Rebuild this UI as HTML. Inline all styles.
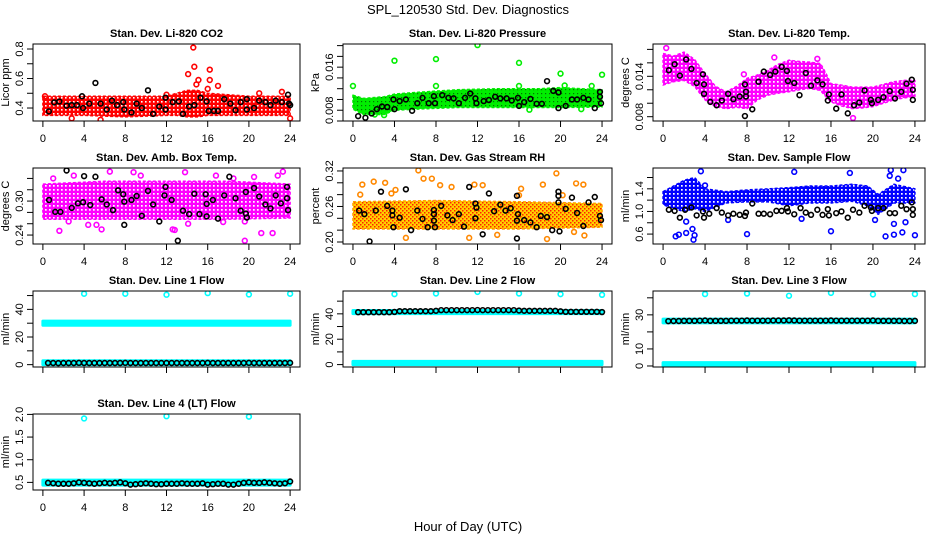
<!DOCTYPE html>
<html><head><meta charset="utf-8">
<style>
html,body{margin:0;padding:0;background:#fff;}
svg{display:block;font-family:"Liberation Sans",Arial,sans-serif;}
</style></head>
<body>
<svg id="chart" width="936" height="540" viewBox="0 0 936 540" xmlns="http://www.w3.org/2000/svg">
<defs>
<pattern id="patRed" width="4" height="4" patternUnits="userSpaceOnUse"><rect width="4" height="4" fill="#ff0000"/><rect x="1" y="1" width="1.6" height="1.6" fill="#fff"/></pattern>
<pattern id="patGreen" width="4" height="4" patternUnits="userSpaceOnUse"><rect width="4" height="4" fill="#00ee00"/><rect x="1" y="1" width="1.2" height="1.2" fill="#000" opacity="0.5"/></pattern>
<pattern id="patMag" width="4" height="4" patternUnits="userSpaceOnUse"><rect width="4" height="4" fill="#ff00ff"/><rect x="1" y="1" width="1.7" height="1.7" fill="#fff"/></pattern>
<pattern id="patBlue" width="4" height="4" patternUnits="userSpaceOnUse"><rect width="4" height="4" fill="#0000ff"/><rect x="1" y="1" width="1.7" height="1.7" fill="#fff"/></pattern>
<pattern id="patRH" width="4" height="4" patternUnits="userSpaceOnUse"><rect width="4" height="4" fill="#ffd000"/><rect x="0" y="0" width="1.5" height="1.5" fill="#ff2000"/><rect x="2" y="2" width="1.5" height="1.5" fill="#ff2000"/></pattern>
</defs>
<text x="468" y="14" font-size="13" text-anchor="middle">SPL_120530  Std. Dev. Diagnostics</text>
<text x="468" y="531" font-size="13" text-anchor="middle">Hour of Day (UTC)</text>
</svg>
<script>
// ---------- data ----------
const xTickHours=[0,4,8,12,16,20,24];
// P1 CO2
const co2BandHours=[0,4,8,12,13,14,15,16,20,24];
const co2BandLo=[0.35,0.35,0.34,0.35,0.35,0.34,0.34,0.35,0.35,0.35];
const co2BandHi=[0.48,0.48,0.48,0.48,0.5,0.52,0.52,0.5,0.48,0.48];
const co2OutX=[14.6,14.7,14.1,16.2,16.2,15.1,17,14.9,0.2,2.8,5.6,24,21,23.2,16,12];
const co2OutY=[0.81,0.68,0.63,0.66,0.59,0.59,0.55,0.56,0.48,0.33,0.32,0.33,0.5,0.51,0.53,0.49];
const co2BlkX=[0.58,1.1,1.6,2.3,2.8,3.3,3.8,3.9,4.5,5.1,5.6,6.2,6.7,7.2,7.8,7.9,8.6,9.1,9.6,10.2,10.7,11.3,11.9,11.9,12.6,13.2,13.6,14.2,14.7,15.3,15.9,16.1,16.6,17.0,17.6,18.2,18.7,19.2,19.8,19.8,20.5,21.0,21.6,22.1,22.6,23.2,23.8,23.9,24];
const co2BlkY=[0.377,0.438,0.444,0.416,0.42,0.42,0.48,0.40,0.43,0.57,0.43,0.39,0.45,0.42,0.44,0.39,0.37,0.43,0.40,0.52,0.36,0.41,0.47,0.39,0.44,0.445,0.36,0.41,0.42,0.47,0.445,0.38,0.38,0.38,0.46,0.43,0.385,0.44,0.46,0.39,0.40,0.45,0.44,0.42,0.45,0.44,0.49,0.43,0.42];
// P2 Pressure
const prBandHours=[0,1,3,4,6,10,14,18,20,24];
const prBandLo=[0.0082,0.0072,0.0072,0.008,0.0082,0.0085,0.0085,0.0085,0.0085,0.0086];
const prBandHi=[0.0108,0.0102,0.0105,0.011,0.0113,0.0118,0.012,0.012,0.0122,0.0118];
const prOutX=[0,4,8,12,16,20,24,8,16,23,20.4,17,22,2.1,3];
const prOutY=[0.0125,0.0172,0.0175,0.0201,0.0168,0.0148,0.0146,0.0125,0.0125,0.0125,0.0126,0.0081,0.0082,0.0072,0.0071];
const prBlkX=[0.5,1.2,1.8,2.3,2.8,3.3,3.9,4,4.5,5.1,5.7,6.2,6.7,7.3,7.8,7.9,8.6,9.2,9.7,10.2,10.8,11.3,11.8,11.9,12.6,13.1,13.7,14.2,14.8,15.3,15.9,16,16.5,17.1,17.7,18.2,18.7,19.3,19.8,19.8,20.5,21.1,21.6,22.2,22.7,23.3,23.8,23.8,23.9];
const prBlkY=[0.0069,0.0066,0.0074,0.0082,0.0087,0.0086,0.010,0.0082,0.0097,0.010,0.0079,0.0093,0.0103,0.0093,0.0106,0.0093,0.0108,0.0103,0.0102,0.0093,0.0103,0.0111,0.0102,0.0093,0.0097,0.0099,0.0105,0.0102,0.0102,0.0098,0.0103,0.0088,0.0095,0.0101,0.0092,0.0092,0.0134,0.0116,0.0113,0.0084,0.0088,0.010,0.010,0.0103,0.010,0.0084,0.0114,0.0105,0.0093];
// P3 Li-820 Temp
const tmBandHours=[0,1,2,3,4,5,6,7,8,9,10,11,12,13,14,15,15.5,16,17,18,19,20,21,22,23,24];
const tmBandLo=[0.0127,0.0132,0.0134,0.0125,0.0105,0.0095,0.0092,0.0094,0.0092,0.0105,0.0112,0.0115,0.0117,0.0120,0.0122,0.0119,0.0110,0.0102,0.0096,0.0092,0.0093,0.0095,0.0100,0.0105,0.0108,0.011];
const tmBandHi=[0.0174,0.0170,0.0176,0.0165,0.0144,0.0125,0.0117,0.0125,0.0137,0.0142,0.0149,0.0158,0.0164,0.0162,0.0161,0.0159,0.0145,0.0129,0.0127,0.0124,0.0124,0.0124,0.0128,0.0132,0.0134,0.0134];
const tmOutX=[0.3,10.6,14.7,18.1,7.7];
const tmOutY=[0.0182,0.0168,0.0166,0.0078,0.0143];
const tmBlkX=[0.55,1.1,1.6,2.2,2.7,3.2,3.8,3.9,3.9,4.5,5.1,5.6,6.2,6.7,7.3,7.8,7.9,7.9,7.8,8.5,9.1,9.6,10.2,10.7,11.3,11.8,11.9,12.5,13.0,13.6,14.1,14.7,15.2,15.8,15.7,16.5,17.0,17.6,18.2,18.7,19.2,19.8,19.9,20.5,21.0,21.6,22.1,22.7,23.2,23.7,23.8,23.8];
const tmBlkY=[0.0149,0.0158,0.0141,0.0165,0.0151,0.013,0.0143,0.0128,0.0114,0.0102,0.0097,0.0104,0.0114,0.0106,0.011,0.0128,0.0117,0.011,0.0081,0.0091,0.0132,0.0147,0.0142,0.0147,0.0154,0.0148,0.0133,0.013,0.0112,0.0145,0.0126,0.0134,0.0128,0.0113,0.0104,0.0092,0.0113,0.0085,0.0097,0.0101,0.0119,0.0105,0.0100,0.0105,0.0109,0.0118,0.0107,0.0117,0.0129,0.0135,0.012,0.0105];
// P4 Amb Box Temp
const abBandHours=[0,6,12,18,24];
const abBandLo=[0.268,0.268,0.268,0.268,0.27];
const abBandHi=[0.33,0.335,0.335,0.335,0.33];
const abOutX=[1.6,2.5,4.4,5.2,5.7,6.5,8.8,13.8,12.6,12.8,21.2,22.3,23.3,20.5,14.1,17.5,19.6,19.6,1.0,3.0,9.5,16.8,18.5,22.8];
const abOutY=[0.2475,0.264,0.258,0.258,0.25,0.352,0.351,0.351,0.25,0.249,0.2435,0.2435,0.352,0.3425,0.26,0.263,0.264,0.23,0.34,0.345,0.345,0.345,0.34,0.345];
const abBlkX=[0.6,1.2,1.7,2.3,2.8,3.4,3.9,4,4.6,5.1,5.7,6.2,6.8,7.3,7.8,7.9,7.9,8.6,9.1,9.6,10.2,10.7,11.3,11.8,11.9,12.5,13.1,13.6,14.2,14.7,15.2,15.8,15.9,15.9,16.5,17,17.6,18.1,18.7,19.2,19.7,19.7,19.8,20.5,21.0,21.6,22.1,22.6,23.1,23.7,23.7,23.8];
const abBlkY=[0.302,0.281,0.281,0.354,0.288,0.296,0.298,0.344,0.293,0.343,0.303,0.294,0.284,0.319,0.312,0.258,0.299,0.302,0.309,0.274,0.318,0.294,0.264,0.31,0.325,0.302,0.23,0.283,0.277,0.313,0.277,0.312,0.295,0.273,0.302,0.269,0.31,0.343,0.305,0.283,0.316,0.278,0.271,0.323,0.308,0.294,0.287,0.31,0.296,0.325,0.305,0.284];
// P5 Gas Stream RH
const rhBandHours=[0,8,16,24];
const rhBandLo=[0.222,0.222,0.222,0.225];
const rhBandHi=[0.268,0.27,0.268,0.265];
const rhOutX=[0.9,2,3.1,4.1,5.1,6.3,6.8,7.6,8.4,9.5,11.7,11.2,12.5,13.9,16.2,18.3,18.7,19.6,21.5,22.3,22.2,21.3,0.7,3.7,16,20.2];
const rhOutY=[0.297,0.302,0.30,0.288,0.207,0.321,0.307,0.307,0.296,0.293,0.297,0.207,0.296,0.212,0.29,0.297,0.205,0.316,0.299,0.211,0.297,0.217,0.28,0.282,0.279,0.279];
const rhBlkX=[0.6,1.1,1.6,2.2,2.7,3.3,3.8,3.8,3.9,4.5,5.1,5.6,6.2,6.7,7.2,7.8,7.8,7.8,7.9,8.5,9.1,9.6,10.2,10.7,11.2,11.8,11.8,11.9,12.5,13.1,13.6,14.2,14.7,15.2,15.8,15.9,15.8,15.8,16.5,17.1,17.7,18.1,18.7,19.2,19.8,19.8,19.8,19.9,20.5,21.1,21.6,22.2,22.7,23.3,23.8,23.9];
const rhBlkY=[0.253,0.247,0.201,0.253,0.285,0.261,0.253,0.245,0.225,0.241,0.289,0.22,0.253,0.239,0.225,0.254,0.247,0.236,0.225,0.261,0.245,0.237,0.247,0.226,0.293,0.24,0.265,0.258,0.213,0.282,0.252,0.263,0.253,0.257,0.278,0.247,0.236,0.206,0.237,0.233,0.225,0.244,0.242,0.22,0.285,0.278,0.267,0.218,0.256,0.275,0.249,0.227,0.267,0.276,0.244,0.237];
// P6 Sample Flow
const sfBandHours=[0,1,2,3,4,6,8,10,12,14,16,18,19.5,20.5,22,24];
const sfBandLo=[1.12,1.05,1.0,1.05,1.0,1.15,1.17,1.17,1.1,1.15,1.15,1.18,1.1,0.95,1.15,1.15];
const sfBandHi=[1.35,1.45,1.55,1.6,1.4,1.35,1.38,1.4,1.42,1.45,1.45,1.48,1.45,1.3,1.48,1.4];
const sfOutX=[1.2,1.5,2.2,2.2,2.8,2.9,3.0,3.6,4,6.2,8,12.5,13.2,16,17.8,20.2,21.2,21.7,22,22,22.9,23.1,22.8,24,21.6,22.4];
const sfOutY=[0.56,0.59,0.62,0.82,0.69,0.5,0.58,1.71,1.46,0.85,0.6,1.70,0.87,0.65,1.68,0.85,0.56,1.73,0.78,0.59,1.73,0.81,0.63,0.58,1.63,1.58];
const sfBlkX=[0.55,1.1,1.6,2.1,2.7,3.2,3.8,3.9,4.4,5.1,5.6,6.2,6.7,7.3,7.8,7.9,8.5,9.1,9.6,10.2,10.8,11.3,11.8,11.9,12.5,13.1,13.6,14.1,14.7,15.2,15.7,15.8,16.5,17.0,17.6,18.1,18.7,19.2,19.8,19.9,20.5,21.0,21.6,22.1,22.7,23.2,23.7,23.8,23.8];
const sfBlkY=[1.03,1.01,0.89,1.03,1.07,0.93,1.0,0.89,0.96,1.06,0.98,0.93,0.96,0.94,0.92,0.98,1.14,0.96,0.96,0.95,1.01,1.01,1.06,1.0,0.95,1.06,0.98,0.94,1.03,0.94,1.04,0.93,0.97,1.0,0.89,1.03,0.98,1.1,1.07,1.01,1.06,1.06,0.97,0.97,1.1,1.04,1.16,1.04,0.94];
// Line flows
const lineHours=[0.5,1,1.5,2,2.5,3,3.5,4,4.5,5,5.5,6,6.5,7,7.5,8,8.5,9,9.5,10,10.5,11,11.5,12,12.5,13,13.5,14,14.5,15,15.5,16,16.5,17,17.5,18,18.5,19,19.5,20,20.5,21,21.5,22,22.5,23,23.5,24];
const outHours=[4,8,12,16,20,24];
const l1Upper=[0,24], l1UpperLo=[28.5,28.5], l1UpperHi=[31.5,31.5];
const l1Lower=[0,24], l1LowerLo=[0,0], l1LowerHi=[2.8,2.8];
const l1OutY=[51.3,51.3,50.6,51.8,50.8,51.3];
const l1BlkY=[1.2,1.2,1.1,1.2,1.2,1.2,1.3,1.2,1.2,1.2,1.2,1.2,1.2,1.2,1.2,1.3,1.2,1.2,1.2,1.2,1.2,1.2,1.2,1.2,1.2,1.2,1.2,1.2,1.2,1.2,1.2,1.3,1.2,1.2,1.2,1.2,1.2,1.2,1.2,1.3,1.2,1.2,1.2,1.2,1.2,1.2,1.2,1.3];
const l2Upper=[0,24], l2UpperLo=[40.2,40.2], l2UpperHi=[42.6,42.6];
const l2Lower=[0,24], l2LowerLo=[0,0], l2LowerHi=[2.5,2.5];
const l2OutY=[55.5,56,57.3,56,55.5,55];
const l2BlkY=[41.3,41.3,41.3,41.3,41.3,41.3,41.3,41.5,42.1,42.1,42.1,42.1,42.1,42.1,42.1,42.4,42.9,42.9,42.9,42.9,42.9,42.9,42.9,43.0,42.9,42.9,42.9,42.9,42.9,42.9,42.9,42.6,42.4,42.4,42.4,42.4,42.4,42.4,42.4,42.0,41.6,41.6,41.6,41.6,41.6,41.6,41.6,41.4];
const l3Upper=[0,24], l3UpperLo=[25.3,25.3], l3UpperHi=[27.5,27.5];
const l3Lower=[0,24], l3LowerLo=[0,0], l3LowerHi=[2,2];
const l3OutY=[42.2,42.5,41.2,42.9,42,42.2];
const l3BlkY=[26.3,26.4,26.4,26.5,26.5,26.5,26.6,26.7,26.5,26.5,26.5,26.5,26.6,26.6,26.6,26.7,26.6,26.6,26.6,26.6,26.7,26.7,26.7,26.8,26.7,26.6,26.6,26.6,26.6,26.6,26.6,26.7,26.6,26.6,26.6,26.6,26.6,26.6,26.6,26.7,26.5,26.5,26.5,26.5,26.5,26.4,26.4,26.5];
const l4Band=[0,24], l4BandLo=[0.44,0.44], l4BandHi=[0.55,0.55];
const l4OutX=[4,12,20];
const l4OutY=[1.91,1.96,1.95];
const l4BlkY=[0.49,0.48,0.47,0.47,0.47,0.48,0.5,0.49,0.48,0.47,0.48,0.49,0.48,0.49,0.5,0.48,0.45,0.46,0.47,0.48,0.47,0.46,0.46,0.47,0.47,0.47,0.48,0.47,0.47,0.47,0.48,0.45,0.46,0.47,0.47,0.45,0.45,0.47,0.49,0.5,0.49,0.49,0.5,0.49,0.48,0.47,0.48,0.52];

// ---------- drawing ----------
const svg=document.getElementById('chart');
const NS='http://www.w3.org/2000/svg';
function el(tag,attrs,parent){const e=document.createElementNS(NS,tag);for(const k in attrs)e.setAttribute(k,attrs[k]);(parent||svg).appendChild(e);return e;}
const colL=[33,343,653], colR=[300,612,925];
const rowT=[44,168,291,414], rowB=[121,244,367,490];

function panel(o){
  const l=colL[o.col], r=colR[o.col], t=rowT[o.row], b=rowB[o.row];
  const g=el('g',{});
  
  
  const xs=h=>l+(h+0.96)/25.92*(r-l);
  const ys=v=>b-(v-o.dom[0])/(o.dom[1]-o.dom[0])*(b-t);
  const title=el('text',{x:(l+r)/2,y:t-7,'font-size':11,'font-weight':'bold','text-anchor':'middle'},g);
  title.textContent=o.title;
  
  
  const clip='clip'+o.name;
  const cp=el('clipPath',{id:clip},g); el('rect',{x:l,y:t,width:r-l,height:b-t},cp);
  const plot=el('g',{'clip-path':'url(#'+clip+')'},g);
  o.bands.forEach(bd=>{
    let pts=[];
    for(let i=0;i<bd.h.length;i++)pts.push(xs(bd.h[i])+','+ys(bd.hi[i]));
    for(let i=bd.h.length-1;i>=0;i--)pts.push(xs(bd.h[i])+','+ys(bd.lo[i]));
    const p=el('polygon',{points:pts.join(' '),fill:bd.fill,stroke:bd.stroke,'stroke-width':bd.solid?3:1.5,'stroke-linejoin':'round','stroke-dasharray':bd.solid?'none':'3 2'},plot);
    
    
  });
  for(let i=0;i<o.outX.length;i++){
    const c=el('circle',{cx:xs(o.outX[i]),cy:ys(o.outY[i]),r:2.4,fill:'none',stroke:o.color,'stroke-width':1.6},plot);
    
    
  }
  for(let i=0;i<o.blkX.length;i++){
    const c=el('circle',{cx:xs(o.blkX[i]),cy:ys(o.blkY[i]),r:2.4,fill:'none',stroke:'#000','stroke-width':1.6},plot);
    
    
  }
  const bx=el('rect',{x:l,y:t,width:r-l,height:b-t,fill:'none',stroke:'#000','stroke-width':1},g);
  
  
  el('line',{x1:xs(0),x2:xs(24),y1:b,y2:b,stroke:'#000'},g);
  xTickHours.forEach(h=>{
    el('line',{x1:xs(h),x2:xs(h),y1:b,y2:b+6,stroke:'#000'},g);
    if(o.xlabels){const tx=el('text',{x:xs(h),y:b+21,'font-size':11,'text-anchor':'middle'},g);tx.textContent=h;
      
      }
  });
  o.ticks.forEach((v,i)=>{
    el('line',{x1:l-6,x2:l,y1:ys(v),y2:ys(v),stroke:'#000'},g);
    if(o.labels[i]){const yy=ys(v);const tx=el('text',{x:l-10,y:yy,'font-size':11,'text-anchor':'middle',transform:'rotate(-90 '+(l-10)+' '+yy+')'},g);tx.textContent=o.labels[i];
      
      }
  });
  const ym=(t+b)/2;
  const yl=el('text',{x:l-24,y:ym,'font-size':11,'text-anchor':'middle',transform:'rotate(-90 '+(l-24)+' '+ym+')'},g);
  yl.textContent=o.ylab;
  
  
}

panel({name:'panel-co2',col:0,row:0,title:'Stan. Dev. Li-820 CO2',ylab:'Licor ppm',dom:[0.312,0.834],ticks:[0.4,0.5,0.6,0.7,0.8],labels:['0.4','','0.6','','0.8'],xlabels:true,color:'#ff0000',
  bands:[{h:co2BandHours,lo:co2BandLo,hi:co2BandHi,fill:'url(#patRed)',stroke:'#ff0000'}],outX:co2OutX,outY:co2OutY,blkX:co2BlkX,blkY:co2BlkY});
panel({name:'panel-pressure',col:1,row:0,title:'Stan. Dev. Li-820 Pressure',ylab:'kPa',dom:[0.006,0.0203],ticks:[0.006,0.008,0.010,0.012,0.014,0.016,0.018,0.020],labels:['','0.008','','','','0.016','',''],xlabels:true,color:'#00ee00',
  bands:[{h:prBandHours,lo:prBandLo,hi:prBandHi,fill:'url(#patGreen)',stroke:'#00ee00'}],outX:prOutX,outY:prOutY,blkX:prBlkX,blkY:prBlkY});
panel({name:'panel-li820-temp',col:2,row:0,title:'Stan. Dev. Li-820 Temp.',ylab:'degrees C',dom:[0.00736,0.0188],ticks:[0.008,0.010,0.012,0.014,0.016,0.018],labels:['0.008','','','0.014','',''],xlabels:true,color:'#ff00ff',
  bands:[{h:tmBandHours,lo:tmBandLo,hi:tmBandHi,fill:'url(#patMag)',stroke:'#ff00ff'}],outX:tmOutX,outY:tmOutY,blkX:tmBlkX,blkY:tmBlkY});
panel({name:'panel-amb-box-temp',col:0,row:1,title:'Stan. Dev. Amb. Box Temp.',ylab:'degrees C',dom:[0.2242,0.3584],ticks:[0.24,0.26,0.28,0.30,0.32,0.34],labels:['0.24','','','0.30','',''],xlabels:true,color:'#ff00ff',
  bands:[{h:abBandHours,lo:abBandLo,hi:abBandHi,fill:'url(#patMag)',stroke:'#ff00ff'}],outX:abOutX,outY:abOutY,blkX:abBlkX,blkY:abBlkY});
panel({name:'panel-gas-rh',col:1,row:1,title:'Stan. Dev. Gas Stream RH',ylab:'percent',dom:[0.1966,0.325],ticks:[0.20,0.22,0.24,0.26,0.28,0.30,0.32],labels:['0.20','','','0.26','','','0.32'],xlabels:true,color:'#ff8800',
  bands:[{h:rhBandHours,lo:rhBandLo,hi:rhBandHi,fill:'url(#patRH)',stroke:'#ffa000'}],outX:rhOutX,outY:rhOutY,blkX:rhBlkX,blkY:rhBlkY});
panel({name:'panel-sample-flow',col:2,row:1,title:'Stan. Dev. Sample Flow',ylab:'ml/min',dom:[0.4246,1.768],ticks:[0.6,0.8,1.0,1.2,1.4,1.6],labels:['0.6','','1.0','','1.4',''],xlabels:true,color:'#0000ff',
  bands:[{h:sfBandHours,lo:sfBandLo,hi:sfBandHi,fill:'url(#patBlue)',stroke:'#0000ff'}],outX:sfOutX,outY:sfOutY,blkX:sfBlkX,blkY:sfBlkY});
panel({name:'panel-line1-flow',col:0,row:2,title:'Stan. Dev. Line 1 Flow',ylab:'ml/min',dom:[-1.7,53.3],ticks:[0,10,20,30,40,50],labels:['0','','20','','40',''],xlabels:false,color:'#00ffff',
  bands:[{h:l1Upper,lo:l1UpperLo,hi:l1UpperHi,fill:'#00ffff',stroke:'#00ffff',solid:true},{h:l1Lower,lo:l1LowerLo,hi:l1LowerHi,fill:'#00ffff',stroke:'#00ffff',solid:true}],outX:outHours,outY:l1OutY,blkX:lineHours,blkY:l1BlkY});
panel({name:'panel-line2-flow',col:1,row:2,title:'Stan. Dev. Line 2 Flow',ylab:'ml/min',dom:[-1.9,58],ticks:[0,10,20,30,40,50],labels:['0','','20','','40',''],xlabels:false,color:'#00ffff',
  bands:[{h:l2Upper,lo:l2UpperLo,hi:l2UpperHi,fill:'#00ffff',stroke:'#00ffff',solid:true},{h:l2Lower,lo:l2LowerLo,hi:l2LowerHi,fill:'#00ffff',stroke:'#00ffff',solid:true}],outX:outHours,outY:l2OutY,blkX:lineHours,blkY:l2BlkY});
panel({name:'panel-line3-flow',col:2,row:2,title:'Stan. Dev. Line 3 Flow',ylab:'ml/min',dom:[-0.6,44],ticks:[0,10,20,30,40],labels:['0','10','','30',''],xlabels:false,color:'#00ffff',
  bands:[{h:l3Upper,lo:l3UpperLo,hi:l3UpperHi,fill:'#00ffff',stroke:'#00ffff',solid:true},{h:l3Lower,lo:l3LowerLo,hi:l3LowerHi,fill:'#00ffff',stroke:'#00ffff',solid:true}],outX:outHours,outY:l3OutY,blkX:lineHours,blkY:l3BlkY});
panel({name:'panel-line4-flow',col:0,row:3,title:'Stan. Dev. Line 4 (LT) Flow',ylab:'ml/min',dom:[0.332,2.009],ticks:[0.5,1.0,1.5,2.0],labels:['0.5','1.0','1.5','2.0'],xlabels:true,color:'#00ffff',
  bands:[{h:l4Band,lo:l4BandLo,hi:l4BandHi,fill:'#00ffff',stroke:'#00ffff',solid:true}],outX:l4OutX,outY:l4OutY,blkX:lineHours,blkY:l4BlkY});
</script>
</body></html>
